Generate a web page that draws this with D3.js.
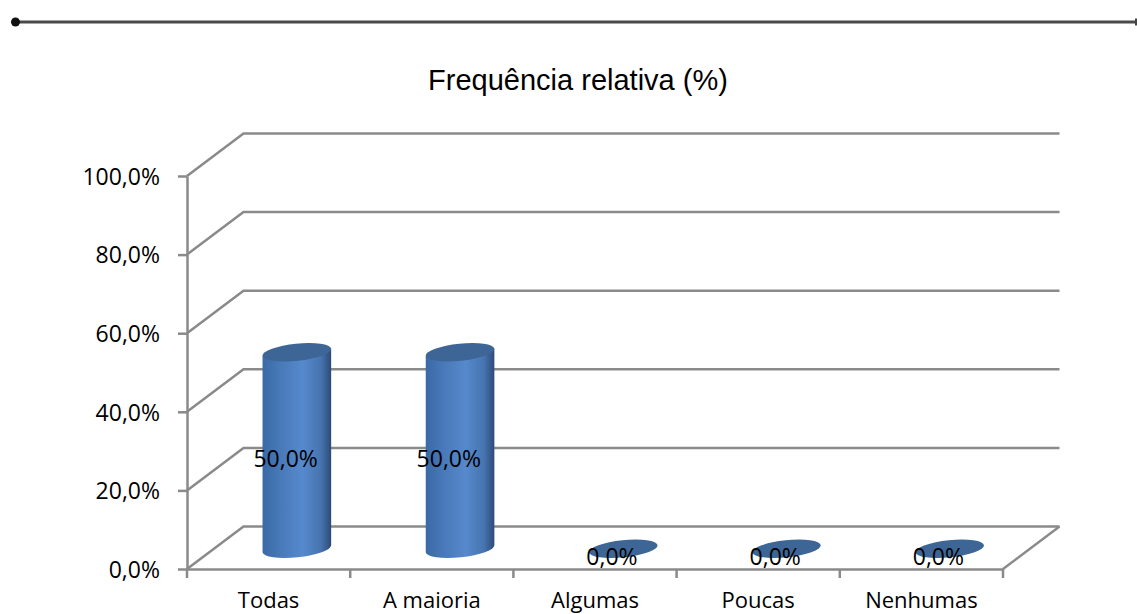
<!DOCTYPE html>
<html>
<head>
<meta charset="utf-8">
<script src="https://cdn.jsdelivr.net/npm/d3@7"></script>
<style>
  html, body { margin: 0; padding: 0; background: #fff; overflow: hidden; }
  svg { display: block; }
</style>
</head>
<body>
<div id="chart"></div>
<script>
const categories = ['Todas', 'A maioria', 'Algumas', 'Poucas', 'Nenhumas'];
const frequencies = [50, 50, 0, 0, 0];
const yTicks = [0, 20, 40, 60, 80, 100];
const chartTitle = 'Frequência relativa (%)';

const width = 1137;
const height = 614;
const labelFont = '"Open Sans", sans-serif';

// pseudo 3D depth of the chart box
const depthX = 56.5;
const depthY = 42.5;
const gridColor = '#8a8a8a';

const svg = d3.select('#chart')
    .append('svg')
    .attr('width', width)
    .attr('height', height);

const x = d3.scaleBand()
    .domain(categories)
    .range([187, 1003]);

const y = d3.scaleLinear()
    .domain([0, 100])
    .range([569, 176]);

const formatPct = v => d3.format('.1f')(v).replace('.', ',') + '%';

// Cylinder shading
const defs = svg.append('defs');
const grad = defs.append('linearGradient')
    .attr('id', 'cyl')
    .attr('x1', '0%').attr('x2', '100%')
    .attr('y1', '0%').attr('y2', '0%');
[
    ['0%', '#3a6aa6'],
    ['30%', '#4a7bbb'],
    ['58%', '#5689cd'],
    ['85%', '#4674b0'],
    ['100%', '#2e4a76']
].forEach(s => grad.append('stop').attr('offset', s[0]).attr('stop-color', s[1]));

// Rule above the chart
svg.append('line')
    .attr('x1', 15).attr('x2', 1137)
    .attr('y1', 22).attr('y2', 22)
    .attr('stroke', '#4a4a4a')
    .attr('stroke-width', 3);

svg.append('circle')
    .attr('cx', 15.5).attr('cy', 22)
    .attr('r', 4.5)
    .attr('fill', '#111');

svg.append('rect')
    .attr('x', 1135).attr('y', 18.5)
    .attr('width', 2).attr('height', 7)
    .attr('fill', '#444');

// Title
svg.append('text')
    .attr('x', 578)
    .attr('y', 90)
    .attr('text-anchor', 'middle')
    .style('font-family', '"Liberation Sans", Arial, sans-serif')
    .style('font-size', '29px')
    .style('fill', '#000')
    .text(chartTitle);

// Back wall gridlines and the side wall diagonals
const grid = svg.append('g')
    .attr('fill', 'none')
    .attr('stroke', gridColor)
    .attr('stroke-width', 2.5);

grid.selectAll('.grid')
    .data(yTicks)
    .enter()
    .append('path')
    .attr('class', 'grid')
    .attr('d', d => `M${x.range()[0]},${y(d)}L${x.range()[0] + depthX},${y(d) - depthY}H${x.range()[1] + depthX}`);

// Floor right edge
grid.append('path')
    .attr('d', `M${x.range()[1]},${y(0)}L${x.range()[1] + depthX},${y(0) - depthY}`);

// Y axis
const yAxis = svg.append('g')
    .attr('transform', `translate(${x.range()[0]},0)`)
    .call(d3.axisLeft(y).tickValues(yTicks).tickFormat(formatPct).tickSize(9).tickSizeOuter(0).tickPadding(18));

// X axis, labels sit between the tick marks
const xAxis = svg.append('g')
    .attr('transform', `translate(0,${y(0)})`)
    .call(d3.axisBottom(x).tickSize(0).tickPadding(23));

xAxis.selectAll('.xtick')
    .data(d3.range(categories.length + 1))
    .enter()
    .append('line')
    .attr('class', 'xtick')
    .attr('x1', d => x.range()[0] + d * x.step())
    .attr('x2', d => x.range()[0] + d * x.step())
    .attr('y1', 0)
    .attr('y2', 9);

[yAxis, xAxis].forEach(a => {
    a.selectAll('path, line')
        .attr('stroke', gridColor)
        .attr('stroke-width', 2.5);
    a.selectAll('text')
        .style('font-family', labelFont)
        .style('font-size', '23px')
        .style('fill', '#000');
});
yAxis.selectAll('text').attr('dy', '0.36em');
// slightly smaller so the descenders stay inside the picture
xAxis.selectAll('text').style('font-size', '22px');

// Cylinders
const rx = 34.5;
const ry = 8.5;
const tilt = -6;
const cos = Math.cos(tilt * Math.PI / 180);
const sin = Math.sin(tilt * Math.PI / 180);
const baseY = y(0) - depthY / 2 + 1;

const bars = svg.selectAll('.bar')
    .data(categories.map((c, i) => ({ name: c, value: frequencies[i] })))
    .enter()
    .append('g')
    .attr('class', 'bar')
    .attr('transform', d => `translate(${x(d.name) + x.bandwidth() / 2 + depthX / 2},0)`);

bars.filter(d => d.value > 0)
    .append('path')
    .attr('fill', 'url(#cyl)')
    .attr('d', d => {
        const top = baseY - (y(0) - y(d.value));
        return `M${-rx * cos},${top - rx * sin}`
            + `L${-rx * cos},${baseY - rx * sin}`
            + `A${rx},${ry} ${tilt} 0 0 ${rx * cos},${baseY + rx * sin}`
            + `L${rx * cos},${top + rx * sin}Z`;
    });

bars.append('ellipse')
    .attr('rx', rx)
    .attr('ry', ry)
    .attr('fill', '#3d6596')
    .attr('transform', d => `translate(0,${baseY - (y(0) - y(d.value))}) rotate(${tilt})`);

// Value labels
svg.selectAll('.value')
    .data(categories.map((c, i) => ({ name: c, value: frequencies[i] })))
    .enter()
    .append('text')
    .attr('class', 'value')
    .attr('x', d => x(d.name) + x.bandwidth() / 2 + 17)
    .attr('y', d => y(d.value / 2) - 4)
    .attr('text-anchor', 'middle')
    .style('font-family', labelFont)
    .style('font-size', '23px')
    .style('fill', '#000')
    .text(d => formatPct(d.value));
</script>
</body>
</html>
